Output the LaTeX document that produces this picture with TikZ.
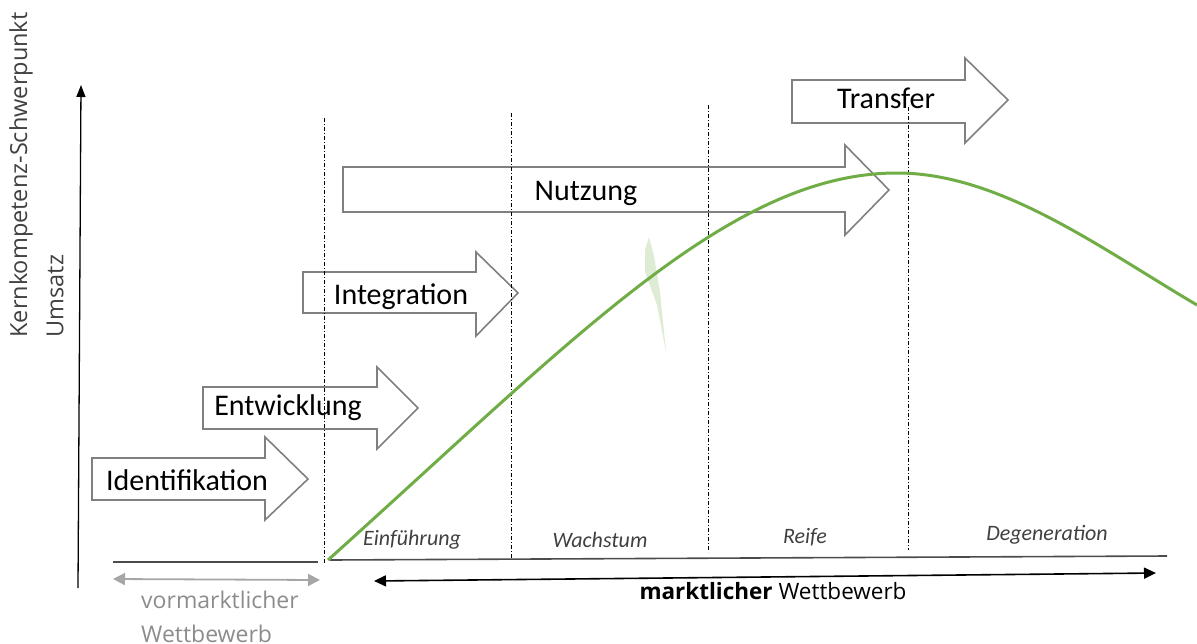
\documentclass[tikz,border=0pt]{standalone}
\usepackage{fontspec}
\setmainfont{Carlito}
\newfontfamily\osans{Open Sans}
\usetikzlibrary{arrows.meta}
\definecolor{curvegreen}{RGB}{112,173,71}
\definecolor{arrowgray}{RGB}{128,128,128}
\definecolor{textgray}{RGB}{140,140,140}
\definecolor{phasegray}{RGB}{64,64,64}
\definecolor{faintgreen}{RGB}{222,236,212}
\newcommand\blockarr[8]{%
  \draw[barrow] (#1,#2) -- (#4,#2) -- (#4,#5) -- (#7,#8) -- (#4,#6) -- (#4,#3) -- (#1,#3) -- cycle;}
\tikzset{
  barrow/.style={draw=arrowgray, line width=1.6pt, line join=miter},
  blabel/.style={font=\fontsize{30}{30}\selectfont, text=black, inner sep=0pt, anchor=base},
  phaseline/.style={line width=0.9pt, dash pattern=on 4pt off 2pt on 1pt off 2pt},
  phase/.style={font=\itshape\fontsize{22}{22}\selectfont, text=phasegray, inner sep=0pt},
  axlabel/.style={font=\osans\fontsize{23.5}{23.5}\selectfont, text=black!75, inner sep=0pt},
}
\begin{document}
\begin{tikzpicture}[x=1pt,y=-1pt]
\useasboundingbox (0,0) rectangle (1197,643);
% faint green sliver
\fill[faintgreen] (645,250) -- (649,237) -- (654,256) -- (660,292) -- (666,352) -- (657,305) -- (645,272) -- cycle;
% axis
\coordinate (ybot) at (78,588);
\coordinate (ytop) at (81,85);
\draw[line width=1.3pt, -{Triangle[length=12pt,width=9pt]}] (ybot) -- (ytop);
\node[axlabel, rotate=90] (kern) at (21,175) {Kernkompetenz-Schwerpunkt};
\node[axlabel, rotate=90] (ums) at (55,296) {Umsatz};
% baselines
\coordinate (b1) at (113,562);
\coordinate (b2) at (318,562);
\coordinate (b3) at (330,560);
\coordinate (b4) at (1167,556);
\draw[line width=1.6pt, black!70] (b1) -- (b2);
\draw[line width=1.6pt, black!70] (b3) -- (b4);
% block arrows
\blockarr{92}{458}{500}{265}{437}{520}{308}{479}
\blockarr{203}{387}{429}{377}{367}{449}{418}{408}
\blockarr{303}{272}{313}{476}{252}{336}{518}{293}
\blockarr{343}{167}{212}{845}{145}{235}{889}{190}
\blockarr{792}{80}{123}{965}{58}{143}{1008}{100}
\node[blabel] (ident) at (187,490) {Identifikation};
\node[blabel] (entw) at (288,415) {Entwicklung};
\node[blabel] (integ) at (401,304) {Integration};
\node[blabel] (nutz) at (586,200) {Nutzung};
\node[blabel] (trans) at (886,108) {Transfer};
% phase separators
\coordinate (s1t) at (324,118); \coordinate (s1b) at (324,563);
\coordinate (s2t) at (511,113); \coordinate (s2b) at (511,558);
\coordinate (s3t) at (708,105); \coordinate (s3b) at (708,552);
\coordinate (s4t) at (908,107); \coordinate (s4b) at (908,550);
\draw[phaseline] (s1t) -- (s1b);
\draw[phaseline] (s2t) -- (s2b);
\draw[phaseline] (s3t) -- (s3b);
\draw[phaseline] (s4t) -- (s4b);
% curve
\coordinate (c0) at (328,560);
\coordinate (cp) at (897,173);
\coordinate (c1) at (1197,305);
\draw[curvegreen, line width=3pt] (c0) .. controls (575,338) and (730,173) .. (cp)
  .. controls (1000,173) and (1100,248) .. (c1);
% phase labels
\node[phase] (einf) at (412,540) {Einführung};
\node[phase] (wach) at (600,540) {Wachstum};
\node[phase] (reife) at (805,537) {Reife};
\node[phase] (degen) at (1047,535) {Degeneration};
% bottom arrows
\coordinate (g1) at (113,579);
\coordinate (g2) at (320,580);
\draw[arrowgray!70, line width=1.8pt, {Triangle[length=12pt,width=12pt]}-{Triangle[length=12pt,width=12pt]}] (g1) -- (g2);
\coordinate (m1) at (374,581);
\coordinate (m2) at (1156,573);
\draw[line width=1.6pt, {Triangle[length=12pt,width=11pt]}-{Triangle[length=12pt,width=11pt]}] (m1) -- (m2);
\node[font=\osans\fontsize{22.5}{22.5}\selectfont, inner sep=0pt] (markt) at (773,591) {\textbf{marktlicher} Wettbewerb};
\node[font=\osans\fontsize{23}{23}\selectfont, text=textgray, inner sep=0pt, anchor=west] (vorm) at (141,600) {vormarktlicher};
\node[font=\osans\fontsize{23}{23}\selectfont, text=textgray, inner sep=0pt, anchor=west] (wett) at (141,634) {Wettbewerb};
\end{tikzpicture}
\end{document}
